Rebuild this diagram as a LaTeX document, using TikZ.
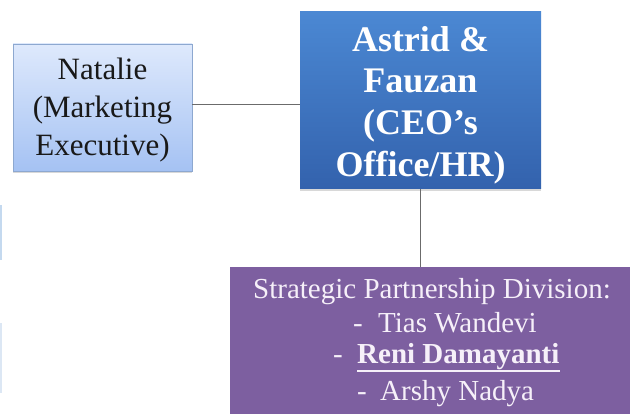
\documentclass[tikz,border=0pt]{standalone}
\usepackage{fontspec}
\setmainfont{Liberation Serif}
\usetikzlibrary{shadows}
\definecolor{natTop}{HTML}{DEE9FC}
\definecolor{natBot}{HTML}{A5C2F3}
\definecolor{natBorder}{HTML}{8DA8D0}
\definecolor{astTop}{HTML}{4B88D3}
\definecolor{astBot}{HTML}{3362AD}
\definecolor{purp}{HTML}{7D5FA0}
\definecolor{purpText}{HTML}{F6F0F9}
\definecolor{connGray}{HTML}{6B6B6B}
\definecolor{sliverA}{HTML}{C4D9EF}
\definecolor{sliverB}{HTML}{DCE7F4}
\begin{document}
\begin{tikzpicture}[x=1pt,y=-1pt,
  softshadow/.style={drop shadow={shadow xshift=0pt,shadow yshift=-2pt,opacity=0.25,fill=black!60}},
  natbox/.style={rectangle,draw=natBorder,line width=0.8pt,top color=natTop,bottom color=natBot,
    minimum width=179pt,minimum height=127pt,inner sep=0pt,softshadow},
  astbox/.style={rectangle,top color=astTop,bottom color=astBot,
    minimum width=241pt,minimum height=177pt,inner sep=0pt,softshadow},
  purbox/.style={rectangle,fill=purp,minimum width=410pt,minimum height=158pt,inner sep=0pt,softshadow},
  nattext/.style={anchor=base,inner sep=0pt,text=black!90,font=\fontsize{31}{38}\selectfont},
  asttext/.style={anchor=base,inner sep=0pt,text=white,font=\fontsize{36}{40}\selectfont\bfseries},
  purtext/.style={anchor=base west,inner sep=0pt,text=purpText,font=\fontsize{29}{32}\selectfont},
  conn/.style={draw=connGray,line width=1pt}]
\useasboundingbox (0,0) rectangle (630,414);
\clip (0,0) rectangle (630,414);
\fill[white] (0,0) rectangle (630,414);

% faint cut-off boxes at the left edge
\fill[sliverA] (0,205) rectangle (1.5,260);
\fill[sliverB] (0,323) rectangle (1.5,393);

% boxes
\node[natbox] (nat) at (102.5,107.5) {};
\node[astbox] (ast) at (420.5,100.5) {};
\node[purbox] (pur) at (435,346) {};

% connectors
\draw[conn] ([yshift=2.5pt]nat.east) -- ([yshift=2.5pt]nat.east -| ast.west);
\draw[conn] (ast.south) -- (ast.south |- pur.north);

% Natalie text
\node[nattext] (nat1) at (102.5,80) {Natalie};
\node[nattext] (nat2) at (102.5,118) {(Marketing};
\node[nattext] (nat3) at (102.5,156) {Executive)};

% Astrid text
\node[asttext] (ast1) at (420.5,52) {Astrid \&};
\node[asttext] (ast2) at (420.5,93) {Fauzan};
\node[asttext] (ast3) at (420.5,135) {(CEO’s};
\node[asttext] (ast4) at (420.5,177) {Office/HR)};

% purple box text
\node[purtext] (p1) at (253,299) {Strategic Partnership Division:};
\node[purtext] (d2) at (353,333) {-};
\node[purtext] (p2) at (378,333) {Tias Wandevi};
\node[purtext] (d3) at (333,364) {-};
\node[purtext,font=\fontsize{29}{32}\selectfont\bfseries] (p3) at (357,364) {Reni Damayanti};
\draw[draw=purpText,line width=1.8pt] ([yshift=-7pt]p3.base west) -- ([yshift=-7pt]p3.base east);
\node[purtext] (d4) at (357,400) {-};
\node[purtext] (p4) at (380,400) {Arshy Nadya};
\end{tikzpicture}
\end{document}
